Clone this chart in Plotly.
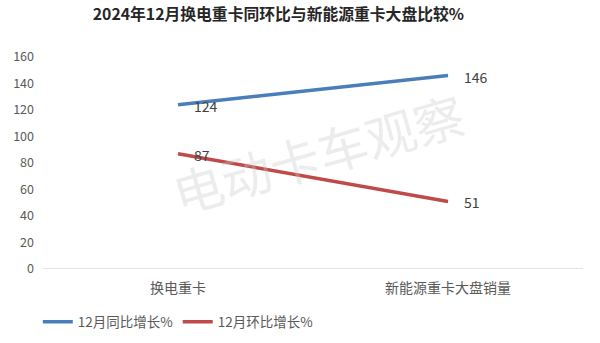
import plotly.graph_objects as go

categories = ["换电重卡", "新能源重卡大盘销量"]
yoy = [124, 146]
mom = [87, 51]
series_names = ["12月同比增长%", "12月环比增长%"]
title = "2024年12月换电重卡同环比与新能源重卡大盘比较%"
watermark = "电动卡车观察"

font = "Noto Sans CJK SC"
colors = ["#4A7EBB", "#BE4B48"]
fig = go.Figure()
for name, vals, col in zip(series_names, [yoy, mom], colors):
    fig.add_trace(go.Scatter(x=categories, y=vals, mode="lines", name=name,
                             line=dict(color=col, width=3.5)))
    for c, v in zip(categories, vals):
        fig.add_annotation(x=c, y=v, text=str(v), showarrow=False, xanchor="left",
                           yanchor="middle", xshift=14, yshift=-1,
                           font=dict(size=14, color="#404040", family=font))

fig.update_layout(
    width=600, height=343,
    margin=dict(l=43, r=17, t=57, b=74),
    paper_bgcolor="white", plot_bgcolor="white",
    title=dict(text=title, x=0.464, xanchor="center", y=0.958, yanchor="middle",
               font=dict(family=font, size=15.8, color="#262626", weight="bold")),
    font=dict(family=font, color="#595959", size=12),
    showlegend=True,
    legend=dict(orientation="h", xref="container", yref="container", x=0.063, y=0.061,
                xanchor="left", yanchor="middle",
                font=dict(size=13.5, color="#595959"), itemwidth=30, tracegroupgap=0),
    xaxis=dict(showgrid=False, showline=False, zeroline=False, ticks="",
               range=[-0.5, 1.5], tickfont=dict(size=14, color="#595959"),
               ticklabelstandoff=9, automargin=False),
    yaxis=dict(range=[0, 160], dtick=20, showgrid=False, zeroline=False, showline=False,
               tickfont=dict(size=12.5, color="#595959"), ticklabelstandoff=8,
               automargin=False),
)
fig.add_shape(type="line", xref="paper", yref="y", x0=0, x1=1, y0=0, y1=0,
              line=dict(color="#D9D9D9", width=1.5), layer="below")
fig.add_annotation(text=watermark, xref="paper", yref="paper", x=0.51, y=0.55,
                   showarrow=False, textangle=-16,
                   font=dict(family=font, size=50, color="rgba(200,200,200,0.35)"))
fig.write_html("out.html")
